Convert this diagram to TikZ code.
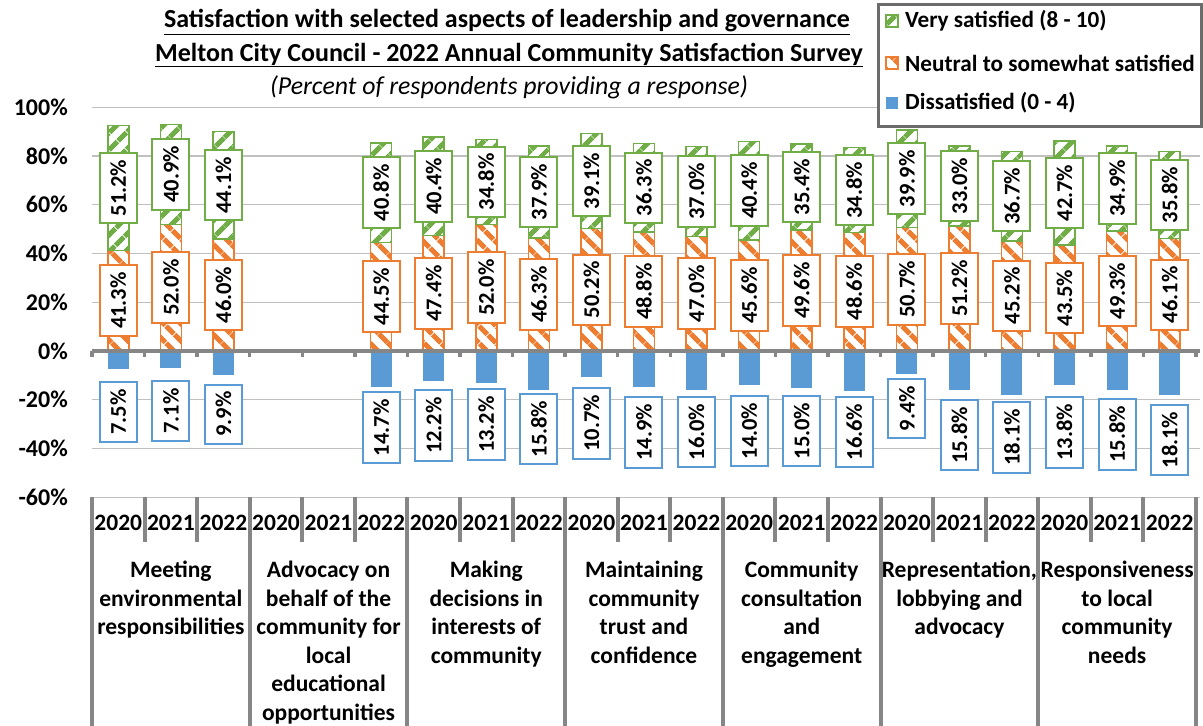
\documentclass[tikz,border=0pt]{standalone}
\usepackage{fontspec}
\setmainfont{Carlito}
\usetikzlibrary{patterns.meta}

\definecolor{vgreen}{HTML}{70AD47}
\definecolor{norange}{HTML}{ED7D31}
\definecolor{dblue}{HTML}{5B9BD5}
\definecolor{gridgray}{HTML}{C0C0C0}
\definecolor{axisgray}{HTML}{868686}

\begin{document}
\begin{tikzpicture}[
        x=1pt, y=-1pt,
        % bar styles
        verybar/.style={
                draw=vgreen,
                line width=1.5pt,
                preaction={fill=white},
                pattern={Lines[angle=45, distance=13pt, line width=5.5pt]},
                pattern color=vgreen
            },
        neutralbar/.style={
                draw=norange,
                line width=1.5pt,
                preaction={fill=white},
                pattern={Lines[angle=-45, distance=13pt, line width=5.5pt]},
                pattern color=norange
            },
        disbar/.style={
                fill=dblue
            },
        % value labels
        valbox/.style={
                rectangle,
                fill=white,
                line width=2pt,
                rotate=90,
                inner xsep=7pt,
                minimum height=37pt,
                text=black,
                font=\fontsize{22.5}{24}\selectfont\bfseries
            },
        % axes
        gridline/.style={
                draw=gridgray,
                line width=1.3pt
            },
        axisline/.style={
                draw=axisgray,
                line width=4.5pt
            },
        catline/.style={
                draw=axisgray,
                line width=4pt
            },
        ylabel/.style={
                anchor=east,
                inner sep=0pt,
                font=\fontsize{24}{28}\selectfont\bfseries
            },
        yearlabel/.style={
                inner sep=0pt,
                font=\fontsize{23.5}{28}\selectfont\bfseries
            },
        grouplabel/.style={
                anchor=north,
                align=center,
                inner sep=0pt,
                font=\fontsize{23.5}{28.5}\selectfont\bfseries
            },
        % title and legend
        titletext/.style={
                inner sep=0pt,
                font=\fontsize{26}{30}\selectfont\bfseries
            },
        legendbox/.style={
                rectangle,
                draw=axisgray!80!black,
                line width=3pt,
                fill=white,
                anchor=north west,
                minimum width=323pt,
                minimum height=122pt
            },
        legendtext/.style={
                anchor=west,
                inner sep=0pt,
                font=\fontsize{23.2}{26}\selectfont\bfseries
            }
    ]

    \useasboundingbox (0,0) rectangle (1203,726);

    % Title
    \node[titletext] (title1) at (507,22) {\underline{Satisfaction with selected aspects of leadership and governance}};
    \node[titletext] (title2) at (509,55) {\underline{Melton City Council - 2022 Annual Community Satisfaction Survey}};
    \node[titletext, font=\fontsize{25.8}{30}\selectfont\itshape] (title3) at (509,87) {(Percent of respondents providing a response)};

    % Plot area (x = category, y = percent)
    \begin{scope}[shift={(92,351)}, x=52.57pt, y=2.4375pt]
        \foreach \p in {100,80,60,40,20,-20,-40,-60}
            \draw[gridline] (0,\p) -- (21.08,\p);
        \foreach \p in {100,80,60,40,20,0,-20,-40,-60}
            \node[ylabel] (y\p) at (-0.4565,\p) {\p\%};

        % bars
        \foreach \i/\n/\v/\d/\l in {
                0/41.3/51.2/7.5/25.0, 1/52.0/40.9/7.1/24.6, 2/46.0/44.1/9.9/25.9,
                5/44.5/40.8/14.7/31.5,
                6/47.4/40.4/12.2/30.6, 7/52.0/34.8/13.2/30.2, 8/46.3/37.9/15.8/32.0,
                9/50.2/39.1/10.7/29.7, 10/48.8/36.3/14.9/33.4, 11/47.0/37.0/16.0/33.2,
                12/45.6/40.4/14.0/32.8, 13/49.6/35.4/15.0/32.8, 14/48.6/34.8/16.6/33.2,
                15/50.7/39.9/9.4/23.6, 16/51.2/33.0/15.8/34.5, 17/45.2/36.7/18.1/35.4,
                18/43.5/42.7/13.8/33.4, 19/49.3/34.9/15.8/34.2, 20/46.1/35.8/18.1/36.5} {
            \draw[neutralbar] (\i+0.3,0) rectangle (\i+0.7,\n);
            \draw[verybar] (\i+0.3,\n) rectangle (\i+0.7,\n+\v);
            \fill[disbar] (\i+0.3,0) rectangle (\i+0.7,-\d);
        }

        % zero line
        \draw[axisline] (0,0) -- (21.08,0);
        \foreach \k in {0,...,21}
            \draw[catline, line width=3.5pt] (\k,0) -- (\k,-2.6);

        % value labels
        \foreach \i/\n/\v/\d/\l in {
                0/41.3/51.2/7.5/25.0, 1/52.0/40.9/7.1/24.6, 2/46.0/44.1/9.9/25.9,
                5/44.5/40.8/14.7/31.5,
                6/47.4/40.4/12.2/30.6, 7/52.0/34.8/13.2/30.2, 8/46.3/37.9/15.8/32.0,
                9/50.2/39.1/10.7/29.7, 10/48.8/36.3/14.9/33.4, 11/47.0/37.0/16.0/33.2,
                12/45.6/40.4/14.0/32.8, 13/49.6/35.4/15.0/32.8, 14/48.6/34.8/16.6/33.2,
                15/50.7/39.9/9.4/23.6, 16/51.2/33.0/15.8/34.5, 17/45.2/36.7/18.1/35.4,
                18/43.5/42.7/13.8/33.4, 19/49.3/34.9/15.8/34.2, 20/46.1/35.8/18.1/36.5} {
            \node[valbox, draw=norange] (n\i) at (\i+0.5,\n/2) {\n\%};
            \node[valbox, draw=vgreen] (v\i) at (\i+0.5,\n+\v/2) {\v\%};
            \node[valbox, draw=dblue] (d\i) at (\i+0.5,-\l) {\d\%};
        }
    \end{scope}

    % Category axis
    \begin{scope}[shift={(92,0)}, x=52.57pt]
        \foreach \k in {0,...,21}
            \draw[catline] (\k,497) -- (\k,542);
        \foreach \k in {0,3,...,21}
            \draw[catline] (\k,497) -- (\k,726);
        \foreach \g in {0,...,6}
            \foreach \yr [count=\j from 0] in {2020,2021,2022}
                \node[yearlabel] (yr\g\j) at (3*\g+\j+0.5,523) {\yr};
        \foreach \g/\txt in {
                0/{Meeting\\environmental\\responsibilities},
                1/{Advocacy on\\behalf of the\\community for\\local\\educational\\opportunities},
                2/{Making\\decisions in\\interests of\\community},
                3/{Maintaining\\community\\trust and\\confidence},
                4/{Community\\consultation\\and\\engagement},
                5/{Representation,\\lobbying and\\advocacy},
                6/{Responsiveness\\to local\\community\\needs}}
            \node[grouplabel] (grp\g) at (3*\g+1.5,561) {\txt};
    \end{scope}

    % Legend
    \node[legendbox] (legend) at (877,3) {};
    \draw[verybar] (886,15) rectangle (898,27);
    \draw[neutralbar] (886,57) rectangle (898,69);
    \fill[disbar] (886,97) rectangle (898,109);
    \node[legendtext] (lgvery) at (905,21) {Very satisfied (8 - 10)};
    \node[legendtext] (lgneutral) at (905,63) {Neutral to somewhat satisfied};
    \node[legendtext] (lgdis) at (905,103) {Dissatisfied (0 - 4)};

\end{tikzpicture}
\end{document}
